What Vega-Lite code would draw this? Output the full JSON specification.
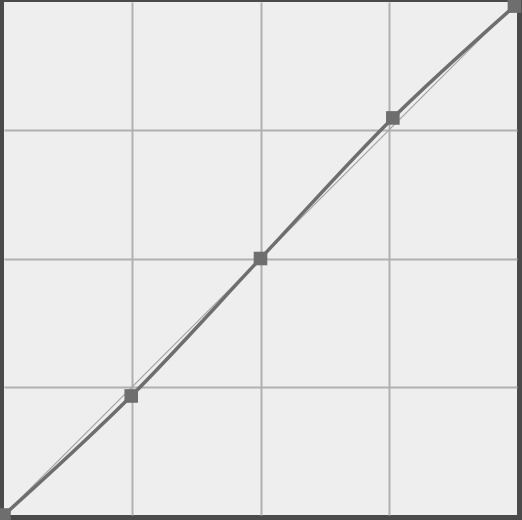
{
  "$schema": "https://vega.github.io/schema/vega-lite/v6.json",
  "width": 513,
  "height": 513,
  "autosize": {"type": "none"},
  "padding": {"left": 4, "top": 2, "right": 5, "bottom": 5},
  "background": "#4a4a4a",
  "config": {
    "view": {"fill": "#eeeeee", "stroke": null},
    "axis": {
      "grid": true, "gridColor": "#b0b0b0", "gridWidth": 2, "gridOpacity": 1,
      "labels": false, "ticks": false, "domain": false, "title": null
    }
  },
  "datasets": {
    "identity": [{"x": 0, "y": 0}, {"x": 1, "y": 1}],
    "curve": [
      {"x": 0, "y": 0},
      {"x": 0.248, "y": 0.232},
      {"x": 0.5, "y": 0.5},
      {"x": 0.758, "y": 0.774},
      {"x": 0.995, "y": 0.992}
    ]
  },
  "encoding": {
    "x": {"field": "x", "type": "quantitative", "scale": {"domain": [0, 1], "nice": false, "zero": false},
      "axis": {"values": [0.25, 0.5, 0.75]}},
    "y": {"field": "y", "type": "quantitative", "scale": {"domain": [0, 1], "nice": false, "zero": false},
      "axis": {"values": [0.25, 0.5, 0.75]}}
  },
  "layer": [
    {"data": {"name": "identity"}, "mark": {"type": "line", "color": "#a4a4a4", "strokeWidth": 1.2}},
    {"data": {"name": "curve"}, "mark": {"type": "line", "color": "#6e6e6e", "strokeWidth": 3.5, "interpolate": "monotone"}},
    {"data": {"name": "curve"}, "mark": {"type": "point", "shape": "square", "filled": true, "color": "#6e6e6e", "opacity": 1, "size": 185}}
  ]
}
